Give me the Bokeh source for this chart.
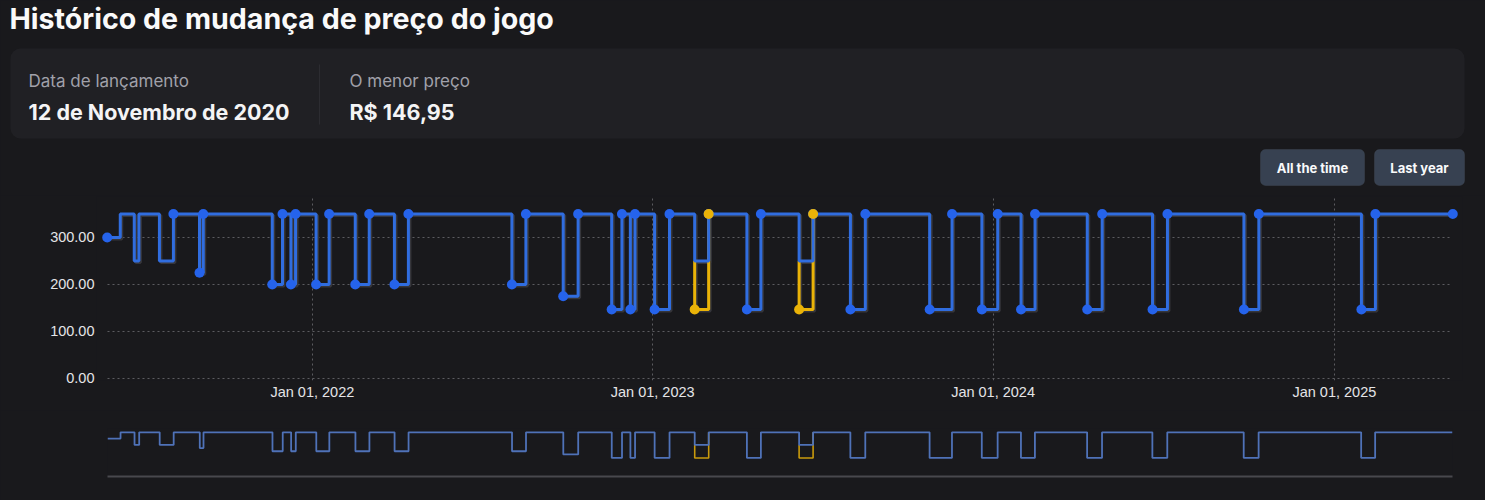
import numpy as np
import pandas as pd
from bokeh.plotting import figure
from bokeh.layouts import column
from bokeh.models import (Range1d, FixedTicker, DatetimeTickFormatter, NumeralTickFormatter,
                          BoxAnnotation, Label)
from bokeh.embed import file_html
from bokeh.resources import INLINE

# ---------------- data ----------------
title_text = "Histórico de mudança de preço do jogo"
release_label = "Data de lançamento"
release_value = "12 de Novembro de 2020"
lowest_label = "O menor preço"
lowest_value = "R$ 146,95"
button_labels = ["All the time", "Last year"]

dates = ["2021-05-26", "2021-06-09", "2021-06-24", "2021-06-29", "2021-07-21", "2021-08-05",
         "2021-09-02", "2021-09-06", "2021-11-19", "2021-11-30", "2021-12-09", "2021-12-14",
         "2022-01-05", "2022-01-19", "2022-02-16", "2022-03-03", "2022-03-30", "2022-04-14",
         "2022-08-03", "2022-08-18", "2022-09-27", "2022-10-13", "2022-11-18", "2022-11-29",
         "2022-12-08", "2022-12-13", "2023-01-03", "2023-01-19", "2023-02-15", "2023-03-02",
         "2023-04-12", "2023-04-27", "2023-06-07", "2023-06-22", "2023-08-01", "2023-08-17",
         "2023-10-25", "2023-11-18", "2023-12-20", "2024-01-06", "2024-01-31", "2024-02-15",
         "2024-04-11", "2024-04-27", "2024-06-20", "2024-07-06", "2024-09-26", "2024-10-12",
         "2025-01-30", "2025-02-14", "2025-05-08"]
prices = [300, 350, 250, 350, 250, 350,
          225, 350, 200, 350, 200, 350,
          200, 350, 200, 350, 200, 350,
          200, 350, 175, 350, 146.95, 350,
          146.95, 350, 146.95, 350, 250, 350,
          146.95, 350, 250, 350, 146.95, 350,
          146.95, 350, 146.95, 350, 146.95, 350,
          146.95, 350, 146.95, 350, 146.95, 350,
          146.95, 350, 350]
marked = [1, 0, 0, 0, 0, 1,
          1, 1, 1, 1, 1, 1,
          1, 1, 1, 1, 1, 1,
          1, 1, 1, 1, 1, 1,
          1, 1, 1, 1, 0, 1,
          1, 1, 0, 1, 1, 1,
          1, 1, 1, 1, 1, 1,
          1, 1, 1, 1, 1, 1,
          1, 1, 1]

# second (discount) series, in separate segments
alt_dates = [["2023-02-15", "2023-02-15", "2023-03-02"],
             ["2023-06-07", "2023-06-07", "2023-06-22"]]
alt_prices = [[250, 146.95, 350],
              [250, 146.95, 350]]
alt_marked = [[0, 1, 1],
              [0, 1, 1]]

year_ticks = ["2022-01-01", "2023-01-01", "2024-01-01", "2025-01-01"]
price_ticks = [0, 100, 200, 300]

# ---------------- style ----------------
BG = "#19191c"
CARD = "#202024"
BLUE_LINE = "#306ddf"
BLUE_DOT = "#2563eb"
YELLOW = "#eab308"
SHADOW = "#36363b"
GRID = "#5c5c60"
W = 1485


def to_ms(d):
    return pd.Timestamp(d).value / 1e6


def step_after(xs, ys):
    px, py = [xs[0]], [ys[0]]
    for i in range(1, len(xs)):
        px += [xs[i], xs[i]]
        py += [ys[i - 1], ys[i]]
    return px, py


def no_align(fig):
    try:
        fig.frame_align = False
    except Exception:
        pass


x_ms = [to_ms(d) for d in dates]
t0, t1 = x_ms[0], x_ms[-1]

# main chart frame geometry (pixels)
F_LEFT, F_RIGHT = 96, 1462
D_LEFT, D_RIGHT = 106.7, 1452.3
ms_per_px = (t1 - t0) / (D_RIGHT - D_LEFT)
xr_main = Range1d(t0 - (D_LEFT - F_LEFT) * ms_per_px, t1 + (F_RIGHT - D_RIGHT) * ms_per_px)

MAIN_H = 215
F_TOP_PAD, F_BOTTOM_PAD = 1, 30
frame_h = MAIN_H - F_TOP_PAD - F_BOTTOM_PAD
y0_main, y1_main = -4.255, 387.2
units_per_px = (y1_main - y0_main) / frame_h

# ---------------- header ----------------
HEAD_H = 195
head = figure(width=W, height=HEAD_H, x_range=Range1d(0, W), y_range=Range1d(0, HEAD_H),
              toolbar_location=None, output_backend="svg", min_border=0,
              background_fill_color=BG, border_fill_color=BG, outline_line_color=None)
no_align(head)
head.axis.visible = False
head.grid.visible = False


def Y(py):
    return HEAD_H - py


def box(l, r, t, b, fill, line=None, radius=8):
    kw = dict(left=l, right=r, top=Y(t), bottom=Y(b), fill_color=fill, fill_alpha=1,
              line_color=line, line_width=1, level="underlay")
    try:
        return BoxAnnotation(border_radius=radius, **kw)
    except Exception:
        return BoxAnnotation(**kw)


def text(x, py, s, size, color, bold=False, align="left"):
    head.add_layout(Label(x=x, y=Y(py), text=s, text_font="Inter",
                          text_font_style="bold" if bold else "normal",
                          text_font_size=size, text_color=color, text_align=align,
                          text_baseline="middle"))


head.add_layout(box(10, 1464, 48, 138, CARD, None, 10))
head.segment(x0=[319], y0=[Y(64)], x1=[319], y1=[Y(124)], line_color="#2c2c31", line_width=1)

text(9, 18, title_text, "28.6px", "#fafafa", bold=True)
text(28, 80, release_label, "17px", "#a1a1aa")
text(28, 111, release_value, "21.5px", "#f4f4f5", bold=True)
text(349, 80, lowest_label, "17px", "#a1a1aa")
text(349, 111, lowest_value, "21.5px", "#f4f4f5", bold=True)

btn_boxes = [(1260, 1364), (1374, 1464)]
for (l, r), lab in zip(btn_boxes, button_labels):
    head.add_layout(box(l, r, 149, 185, "#374151", "#4b5563", 5))
    text((l + r) / 2, 167, lab, "13px", "#f9fafb", bold=True, align="center")

# ---------------- main chart ----------------
p = figure(width=W, height=MAIN_H, x_axis_type="datetime", x_range=xr_main,
           y_range=Range1d(y0_main, y1_main), toolbar_location=None, output_backend="svg",
           min_border_left=F_LEFT, min_border_right=W - F_RIGHT,
           min_border_top=F_TOP_PAD, min_border_bottom=F_BOTTOM_PAD,
           background_fill_color=BG, border_fill_color=BG, outline_line_color=None)
no_align(p)

xt = FixedTicker(ticks=[to_ms(d) for d in year_ticks])
p.xaxis.ticker = xt
p.xgrid.ticker = xt
fmt = "%b %d, %Y"
p.xaxis.formatter = DatetimeTickFormatter(milliseconds=fmt, seconds=fmt, minsec=fmt, minutes=fmt,
                                          hourmin=fmt, hours=fmt, days=fmt, months=fmt, years=fmt)
p.yaxis.ticker = FixedTicker(ticks=price_ticks)
p.ygrid.ticker = FixedTicker(ticks=price_ticks)
p.yaxis.formatter = NumeralTickFormatter(format="0.00")
for ax in (p.xaxis[0], p.yaxis[0]):
    ax.axis_line_color = None
    ax.major_tick_line_color = None
    ax.minor_tick_line_color = None
    ax.major_tick_out = 0
    ax.major_tick_in = 0
    ax.minor_tick_out = 0
    ax.minor_tick_in = 0
    ax.major_label_text_color = "#e4e4e7"
    ax.major_label_text_font = "Liberation Sans"
    ax.major_label_text_font_size = "14.5px"
p.yaxis.major_label_standoff = 2
p.xaxis.major_label_standoff = 3
p.grid.grid_line_color = GRID
p.grid.grid_line_dash = "2 3"
p.grid.grid_line_width = 1
try:
    p.ygrid.cross_bounds = (t0, t1)
except Exception:
    pass

sx, sy = step_after(x_ms, prices)
dx = 1.5 * ms_per_px
dy = 1.5 * units_per_px

alt_paths = []
for ad, ap in zip(alt_dates, alt_prices):
    alt_paths.append(step_after([to_ms(d) for d in ad], ap))

# shadows
p.line([v + dx for v in sx], [v - dy for v in sy], line_color=SHADOW, line_width=3)
for ax_, ay_ in alt_paths:
    p.line([v + dx for v in ax_], [v - dy for v in ay_], line_color=SHADOW, line_width=3)
# discount series under the main series
for ax_, ay_ in alt_paths:
    p.line(ax_, ay_, line_color=YELLOW, line_width=3)
p.line(sx, sy, line_color=BLUE_LINE, line_width=3)

mx = [x for x, m in zip(x_ms, marked) if m]
my = [y for y, m in zip(prices, marked) if m]
p.scatter(mx, my, size=10, fill_color=BLUE_DOT, line_color=None)
for ad, ap, am in zip(alt_dates, alt_prices, alt_marked):
    p.scatter([to_ms(d) for d, m in zip(ad, am) if m], [y for y, m in zip(ap, am) if m],
              size=10, fill_color=YELLOW, line_color=None)

# ---------------- navigator ----------------
NAV_H = 90
nav = figure(width=W, height=NAV_H, x_axis_type="datetime", x_range=Range1d(t0, t1),
             y_range=Range1d(0, 380), toolbar_location=None, output_backend="svg",
             min_border_left=107, min_border_right=33, min_border_top=18, min_border_bottom=24,
             background_fill_color=BG, border_fill_color=BG, outline_line_color=None)
no_align(nav)
nav.yaxis.visible = False
nav.grid.visible = False
nav.xaxis.ticker = FixedTicker(ticks=[])
nav.xaxis.axis_line_color = "#48484d"
nav.xaxis.axis_line_width = 2
nav.xaxis.major_tick_line_color = None
nav.xaxis.minor_tick_line_color = None
for ax_, ay_ in alt_paths:
    nav.line(ax_, ay_, line_color="#c99a0c", line_width=1.6)
nav.line(sx, sy, line_color="#4f72b8", line_width=1.8)

layout = column(head, p, nav, spacing=0)
html = file_html(layout, INLINE, title="Histórico de preço")
html = html.replace("<head>", "<head><style>html,body{margin:0;padding:0;background:%s;}</style>" % BG, 1)
open("out.html", "w").write(html)
